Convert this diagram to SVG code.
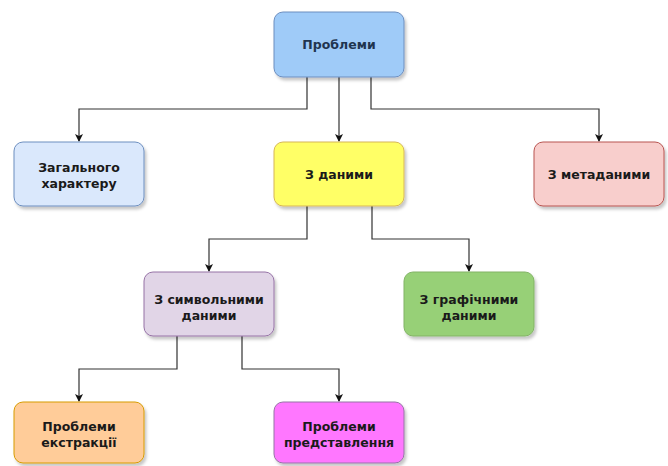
<svg xmlns="http://www.w3.org/2000/svg" width="668" height="466" viewBox="0 0 668 466">
<defs>
<filter id="sh" x="-10%" y="-10%" width="130%" height="140%">
<feDropShadow dx="2" dy="3" stdDeviation="1.5" flood-color="#000" flood-opacity="0.22"/>
</filter>
<marker id="ar" markerWidth="8" markerHeight="8" refX="7" refY="4" orient="auto" markerUnits="userSpaceOnUse">
<path d="M0,0 L8,4 L0,8 L2,4 Z" fill="#111"/>
</marker>
<style>
.b{stroke-width:1;filter:url(#sh)}
.t{font-family:"DejaVu Sans",Verdana,sans-serif;font-weight:bold;font-size:12.5px;fill:#1a1a1a;text-anchor:middle}
.c{fill:none;stroke:#333;stroke-width:1.2;marker-end:url(#ar)}
</style>
</defs>
<rect width="668" height="466" fill="#fff"/>
<g id="connectors">
<path class="c" d="M307,77 V109 H79 V141"/>
<path class="c" d="M339,77 V141"/>
<path class="c" d="M371,77 V109 H599 V141"/>
<path class="c" d="M307,206 V239 H209 V271"/>
<path class="c" d="M372,206 V239 H469 V271"/>
<path class="c" d="M177,336 V369 H79 V401"/>
<path class="c" d="M242,336 V369 H339 V401"/>
</g>
<g id="n-problemy">
<rect class="b" x="274" y="12" width="130" height="65" rx="9" fill="#9fcbf8" stroke="#6c8ebf"/>
<text class="t" x="339" y="49" style="fill:#1f3550">Проблеми</text>
</g>
<g id="n-zagalnogo">
<rect class="b" x="14" y="142" width="130" height="64" rx="9" fill="#dae8fc" stroke="#6c8ebf"/>
<text class="t" x="79" y="172">Загального</text>
<text class="t" x="79" y="188">характеру</text>
</g>
<g id="n-dani">
<rect class="b" x="274" y="142" width="130" height="64" rx="9" fill="#ffff66" stroke="#d6b656"/>
<text class="t" x="339" y="179">З даними</text>
</g>
<g id="n-metadani">
<rect class="b" x="534" y="142" width="130" height="64" rx="9" fill="#f8cecc" stroke="#b85450"/>
<text class="t" x="599" y="179">З метаданими</text>
</g>
<g id="n-symvolni">
<rect class="b" x="144" y="272" width="130" height="64" rx="9" fill="#e1d5e7" stroke="#9673a6"/>
<text class="t" x="209" y="304">З символьними</text>
<text class="t" x="209" y="320">даними</text>
</g>
<g id="n-grafichni">
<rect class="b" x="404" y="272" width="130" height="64" rx="9" fill="#97d077" stroke="#82b366"/>
<text class="t" x="469" y="304">З графічними</text>
<text class="t" x="469" y="320">даними</text>
</g>
<g id="n-ekstrakcii">
<rect class="b" x="14" y="402" width="130" height="61" rx="9" fill="#ffcc99" stroke="#d79b00"/>
<text class="t" x="79" y="431">Проблеми</text>
<text class="t" x="79" y="447">екстракції</text>
</g>
<g id="n-predstavlennya">
<rect class="b" x="274" y="402" width="130" height="61" rx="9" fill="#ff77ff" stroke="#9673a6"/>
<text class="t" x="339" y="431">Проблеми</text>
<text class="t" x="339" y="447">представлення</text>
</g>
</svg>
